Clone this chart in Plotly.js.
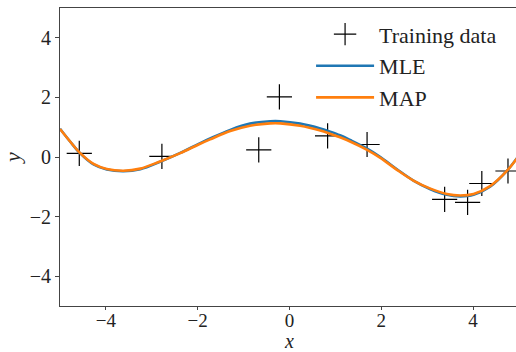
<!DOCTYPE html>
<html>
<head>
<meta charset="utf-8">
<script src="https://cdn.plot.ly/plotly-3.0.1.min.js"></script>
<style>
html,body{margin:0;padding:0;overflow:hidden;width:516px;height:352px;background:#fff;}
#chart{width:530px;height:352px;}
</style>
</head>
<body>
<div id="chart"></div>
<script>
// Training data
const trainX = [-4.58, -2.78, -0.67, -0.22, 0.83, 1.69, 3.38, 3.88, 4.19, 4.76];
const trainY = [0.12, 0.02, 0.24, 2.02, 0.71, 0.42, -1.42, -1.52, -0.89, -0.47];

// Fitted curves at these x positions
const curveX = [-5, -4.78, -4.56, -4.27, -3.98, -3.62, -3.25, -2.82, -2.38, -1.98, -1.73, -1.29, -0.86, -0.42, -0.2, 0.23, 0.67, 0.87, 1.10, 1.32, 1.69, 1.98, 2.34, 2.70, 3.07, 3.43, 3.72, 4.01, 4.37, 4.74, 5];
const mleY = [0.95, 0.52, 0.12, -0.25, -0.42, -0.48, -0.41, -0.16, 0.14, 0.44, 0.62, 0.91, 1.12, 1.20, 1.20, 1.12, 0.96, 0.86, 0.73, 0.57, 0.28, 0.00, -0.41, -0.79, -1.08, -1.27, -1.32, -1.27, -1.00, -0.46, 0.06];
const mapY = [0.94, 0.52, 0.13, -0.23, -0.40, -0.46, -0.39, -0.15, 0.13, 0.42, 0.59, 0.87, 1.05, 1.13, 1.13, 1.05, 0.89, 0.79, 0.66, 0.52, 0.24, -0.03, -0.43, -0.79, -1.06, -1.24, -1.29, -1.24, -0.98, -0.46, 0.05];

const tickVals = [-4, -2, 0, 2, 4];
const tickText = ['\u22124', '\u22122', '0', '2', '4'];

const FONT = 'Liberation Serif, DejaVu Serif, serif';

const traces = [
  {
    x: trainX, y: trainY, mode: 'markers', type: 'scatter', name: 'Training data',
    marker: {symbol: 'cross-thin', size: 18, color: 'black', line: {color: 'black', width: 1.2}}
  },
  {
    x: curveX, y: mleY, mode: 'lines', type: 'scatter', name: 'MLE',
    line: {color: '#1f77b4', width: 2.6, shape: 'spline', smoothing: 1}
  },
  {
    x: curveX, y: mapY, mode: 'lines', type: 'scatter', name: 'MAP',
    line: {color: '#ff7f0e', width: 2.6, shape: 'spline', smoothing: 1}
  }
];

const axisCommon = {
  showgrid: false, zeroline: false, showline: true, mirror: true,
  linecolor: '#444', linewidth: 1,
  ticks: 'outside', ticklen: 4, tickwidth: 1, tickcolor: '#444',
  tickvals: tickVals, ticktext: tickText,
  tickfont: {family: FONT, size: 20, color: '#222'}
};

const layout = {
  width: 530, height: 352,
  margin: {l: 60, r: 11, t: 8, b: 46},
  paper_bgcolor: '#fff', plot_bgcolor: '#fff',
  showlegend: true,
  legend: {
    x: 0.547, y: 0.982, xanchor: 'left', yanchor: 'top',
    itemwidth: 58,
    bgcolor: 'rgba(255,255,255,0)', borderwidth: 0,
    font: {family: FONT, size: 22, color: '#222'}
  },
  xaxis: Object.assign({}, axisCommon, {
    range: [-5, 5],
    ticklen: 3,
    ticklabelstandoff: -6,
    tickfont: {family: FONT, size: 19, color: '#222'},
    title: {text: '<i>x</i>', font: {family: FONT, size: 20, color: '#222'}, standoff: 10}
  }),
  yaxis: Object.assign({}, axisCommon, {
    range: [-5, 5],
    title: {text: '<i>y</i>', font: {family: FONT, size: 22, color: '#222'}, standoff: 10}
  })
};

Plotly.newPlot('chart', traces, layout, {staticPlot: true, displayModeBar: false});
</script>
</body>
</html>
